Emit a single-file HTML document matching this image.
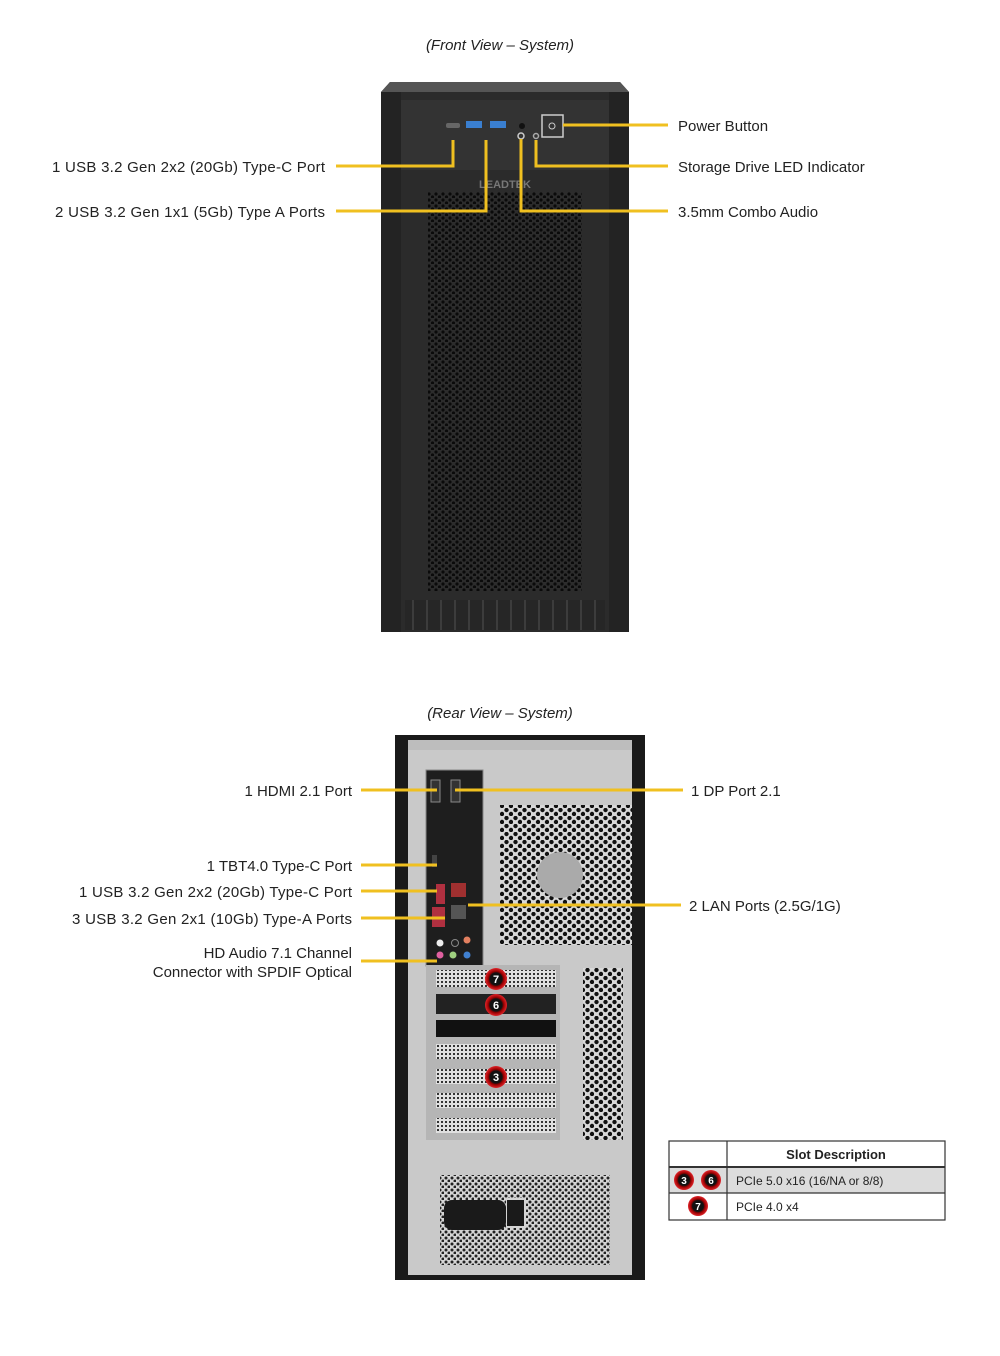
<!DOCTYPE html>
<html><head><meta charset="utf-8"><style>
html,body{margin:0;padding:0;background:#fff}
svg{display:block}
text{font-family:"Liberation Sans",Arial,sans-serif;fill:#222}
</style></head><body>
<svg width="1000" height="1356" viewBox="0 0 1000 1356" xmlns="http://www.w3.org/2000/svg">
<defs>
<pattern id="mesh" width="7" height="6" patternUnits="userSpaceOnUse">
<rect width="7" height="6" fill="#2c2c2c"/>
<circle cx="2" cy="2" r="1.6" fill="#0a0a0a"/><circle cx="5.5" cy="5" r="1.6" fill="#0a0a0a"/>
</pattern>
<pattern id="hex" width="9" height="8" patternUnits="userSpaceOnUse">
<rect width="9" height="8" fill="#d8d8d8"/>
<circle cx="2.5" cy="2" r="2.2" fill="#111"/><circle cx="7" cy="6" r="2.2" fill="#111"/>
</pattern>
<pattern id="psu" width="6" height="6" patternUnits="userSpaceOnUse">
<rect width="6" height="6" fill="#d4d4d4"/>
<circle cx="2" cy="2" r="1.5" fill="#222"/><circle cx="5" cy="5" r="1.5" fill="#222"/>
</pattern>
<pattern id="slot" width="4" height="4" patternUnits="userSpaceOnUse">
<rect width="4" height="4" fill="#e0e0e0"/><rect x="1" y="1" width="2" height="2" fill="#333"/>
</pattern>
<pattern id="vent" width="14" height="30" patternUnits="userSpaceOnUse">
<rect width="14" height="30" fill="#262626"/><rect x="6" width="2" height="30" fill="#3c3c3c"/>
</pattern>
<radialGradient id="badge"><stop offset="0.55" stop-color="#111"/><stop offset="0.7" stop-color="#9a0000"/><stop offset="1" stop-color="#e0242a"/></radialGradient>
</defs>

<!-- FRONT -->
<text x="500" y="50" font-size="15" font-style="italic" text-anchor="middle">(Front View – System)</text>
<path d="M390 82 L620 82 L629 92 L629 632 L381 632 L381 92 Z" fill="#2b2b2b"/>
<path d="M390 82 L620 82 L629 92 L381 92 Z" fill="#555"/>
<rect x="381" y="92" width="20" height="540" fill="#232323"/>
<rect x="609" y="92" width="20" height="540" fill="#232323"/>
<rect x="401" y="100" width="208" height="70" fill="#333"/>
<text x="505" y="188" font-size="11" font-weight="bold" text-anchor="middle" style="fill:#777">LEADTEK</text>
<rect x="428" y="192" width="154" height="399" fill="url(#mesh)"/>
<rect x="405" y="600" width="200" height="30" fill="url(#vent)"/>
<!-- ports -->
<rect x="446" y="123" width="14" height="5" rx="2" fill="#666"/>
<rect x="466" y="121" width="16" height="7" fill="#3a7fd0"/>
<rect x="490" y="121" width="16" height="7" fill="#3a7fd0"/>
<circle cx="522" cy="126" r="3" fill="#111"/>
<circle cx="521" cy="136" r="3" fill="none" stroke="#ccc" stroke-width="1.5"/>
<circle cx="536" cy="136" r="2.5" fill="none" stroke="#aaa" stroke-width="1.5"/>
<rect x="542" y="115" width="21" height="22" fill="#333" stroke="#ccc" stroke-width="1.5"/>
<circle cx="552" cy="126" r="3" fill="none" stroke="#ccc"/>

<g stroke="#f0c020" stroke-width="3" fill="none">
<path d="M336 166 H453 V140"/>
<path d="M336 211 H486 V140"/>
<path d="M563 125 H668"/>
<path d="M668 166 H536 V140"/>
<path d="M668 211 H521 V139"/>
</g>
<text x="325" y="172" font-size="15" text-anchor="end" textLength="273">1 USB 3.2 Gen 2x2 (20Gb) Type-C Port</text>
<text x="325" y="217" font-size="15" text-anchor="end" textLength="270">2 USB 3.2 Gen 1x1 (5Gb) Type A Ports</text>
<text x="678" y="131" font-size="15">Power Button</text>
<text x="678" y="172" font-size="15">Storage Drive LED Indicator</text>
<text x="678" y="217" font-size="15">3.5mm Combo Audio</text>

<!-- REAR -->
<text x="500" y="718" font-size="15" font-style="italic" text-anchor="middle">(Rear View – System)</text>
<rect x="395" y="735" width="250" height="545" fill="#1a1a1a"/>
<rect x="408" y="740" width="224" height="535" fill="#c9c9c9"/>
<rect x="408" y="740" width="224" height="10" fill="#bdbdbd"/>
<!-- IO shield -->
<rect x="426" y="770" width="57" height="196" fill="#1e1e1e" stroke="#888"/>
<rect x="431" y="780" width="9" height="22" fill="#333" stroke="#888"/>
<rect x="451" y="780" width="9" height="22" fill="#333" stroke="#888"/>
<rect x="432" y="855" width="5" height="12" fill="#444"/>
<rect x="436" y="884" width="9" height="20" fill="#b03040"/>
<rect x="451" y="883" width="15" height="14" fill="#a03030"/>
<rect x="432" y="907" width="13" height="20" fill="#b03040"/>
<rect x="451" y="905" width="15" height="14" fill="#555"/>
<circle cx="440" cy="943" r="3.5" fill="#eee"/><circle cx="455" cy="943" r="3.5" fill="#222" stroke="#888"/><circle cx="467" cy="940" r="3.5" fill="#e38060"/>
<circle cx="440" cy="955" r="3.5" fill="#e060a0"/><circle cx="453" cy="955" r="3.5" fill="#a0d080"/><circle cx="467" cy="955" r="3.5" fill="#4080d0"/>
<!-- fan -->
<rect x="500" y="805" width="132" height="140" fill="url(#hex)"/>
<circle cx="560" cy="875" r="23" fill="#aaa"/>
<!-- PCIe -->
<rect x="426" y="965" width="134" height="175" fill="#b5b5b5"/>
<rect x="436" y="970" width="120" height="17" fill="url(#slot)"/>
<rect x="436" y="994" width="120" height="20" fill="#222"/>
<rect x="436" y="1020" width="120" height="17" fill="#111"/>
<rect x="436" y="1044" width="120" height="15" fill="url(#slot)"/>
<rect x="436" y="1069" width="120" height="15" fill="url(#slot)"/>
<rect x="436" y="1093" width="120" height="15" fill="url(#slot)"/>
<rect x="436" y="1118" width="120" height="15" fill="url(#slot)"/>
<rect x="583" y="968" width="40" height="172" fill="url(#hex)"/>
<!-- PSU -->
<rect x="440" y="1175" width="170" height="90" fill="url(#psu)"/>
<rect x="444" y="1200" width="62" height="30" rx="8" fill="#1a1a1a"/>
<rect x="504" y="1200" width="1" height="1" fill="#d4d4d4"/>
<rect x="506" y="1198" width="20" height="30" fill="#d4d4d4"/>
<rect x="507" y="1200" width="17" height="26" fill="#1a1a1a"/>
<!-- badges -->
<g font-size="11" font-weight="bold" text-anchor="middle">
<circle cx="496" cy="979" r="11" fill="url(#badge)"/><text x="496" y="983" style="fill:#fff">7</text>
<circle cx="496" cy="1005" r="11" fill="url(#badge)"/><text x="496" y="1009" style="fill:#fff">6</text>
<circle cx="496" cy="1077" r="11" fill="url(#badge)"/><text x="496" y="1081" style="fill:#fff">3</text>
</g>
<g stroke="#f0c020" stroke-width="3" fill="none">
<path d="M361 790 H437"/>
<path d="M455 790 H683"/>
<path d="M361 865 H437"/>
<path d="M361 891 H437"/>
<path d="M361 918 H445"/>
<path d="M361 961 H437"/>
<path d="M468 905 H681"/>
</g>
<text x="352" y="796" font-size="15" text-anchor="end">1 HDMI 2.1 Port</text>
<text x="352" y="871" font-size="15" text-anchor="end">1 TBT4.0 Type-C Port</text>
<text x="352" y="897" font-size="15" text-anchor="end" textLength="273">1 USB 3.2 Gen 2x2 (20Gb) Type-C Port</text>
<text x="352" y="924" font-size="15" text-anchor="end" textLength="280">3 USB 3.2 Gen 2x1 (10Gb) Type-A Ports</text>
<text x="352" y="958" font-size="15" text-anchor="end">HD Audio 7.1 Channel</text>
<text x="352" y="977" font-size="15" text-anchor="end">Connector with SPDIF Optical</text>
<text x="691" y="796" font-size="15">1 DP Port 2.1</text>
<text x="689" y="911" font-size="15">2 LAN Ports (2.5G/1G)</text>

<!-- table -->
<rect x="669" y="1167" width="276" height="26" fill="#dcdcdc"/>
<g stroke="#333" stroke-width="1.2" fill="none">
<rect x="669" y="1141" width="276" height="79"/>
<path d="M669 1167 H945 M669 1193 H945 M727 1141 V1220"/>
</g>
<path d="M669 1167 H945" stroke="#333" stroke-width="2"/>
<text x="836" y="1159" font-size="13" font-weight="bold" text-anchor="middle">Slot Description</text>
<text x="736" y="1185" font-size="12">PCIe 5.0 x16 (16/NA or 8/8)</text>
<text x="736" y="1211" font-size="12">PCIe 4.0 x4</text>
<g font-size="10" font-weight="bold" text-anchor="middle">
<circle cx="684" cy="1180" r="10" fill="url(#badge)"/><text x="684" y="1184" style="fill:#fff">3</text>
<circle cx="711" cy="1180" r="10" fill="url(#badge)"/><text x="711" y="1184" style="fill:#fff">6</text>
<circle cx="698" cy="1206" r="10" fill="url(#badge)"/><text x="698" y="1210" style="fill:#fff">7</text>
</g>
</svg>
</body></html>
